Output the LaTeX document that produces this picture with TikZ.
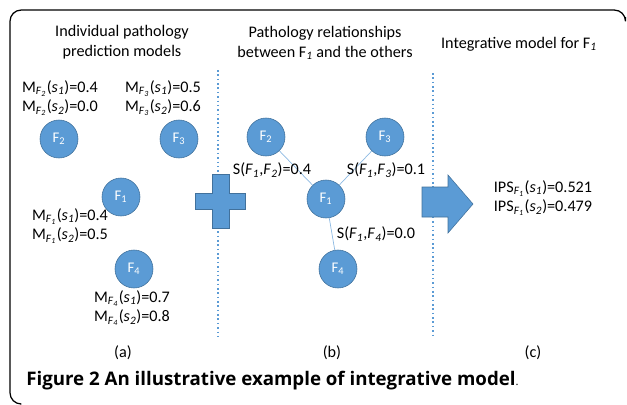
\documentclass[tikz,border=0pt]{standalone}
\usepackage{fontspec}
\setmainfont{Carlito}
\newfontfamily\capfont{Open Sans}
\usepackage{tikz}

\definecolor{pblue}{HTML}{5B9BD5}
\definecolor{pedge}{HTML}{41719C}
\newcommand{\Fi}[1]{\textit{F}\textsubscript{\textit{#1}}}
\newcommand{\si}[1]{\textit{s}\textsubscript{\textit{#1}}}

\begin{document}
\begin{tikzpicture}[x=0.025cm, y=-0.025cm, font=\fontsize{11.5}{14}\selectfont,
    fnode/.style={draw=pedge, fill=pblue, circle, minimum size=0.95cm, inner sep=0pt, text=white,
        font=\fontsize{10.5}{12}\selectfont},
    link/.style={pblue!70, line width=0.5pt},
    sep/.style={pblue, dotted, line width=1.1pt},
    blob/.style={fill=pblue, draw=pedge, line width=0.4pt},
    val/.style={align=center, inner sep=0pt}]
    \useasboundingbox (0,0) rectangle (627,404);
    % frame
    \draw[line width=0.9pt, rounded corners=8] (625.5,17) |- (10,10) |- (20,404);

    % headings
    \node[val] (ha) at (122,42) {Individual pathology\\prediction models};
    \node[val] (hb) at (325,43) {Pathology relationships\\between F\textsubscript{\textit{1}} and the others};
    \node[val] (hc) at (519,44) {Integrative model for F\textsubscript{\textit{1}}};

    % separators
    \coordinate (s1t) at (218,70);
    \coordinate (s1b) at (218,337);
    \coordinate (s2t) at (433,73);
    \coordinate (s2b) at (433,337);
    \draw[sep] (s1t) -- (s1b);
    \draw[sep] (s2t) -- (s2b);

    % (a) individual models
    \node[fnode] (a2) at (59,139) {F\textsubscript{2}};
    \node[fnode] (a3) at (179,139) {F\textsubscript{3}};
    \node[fnode] (a1) at (121,197) {F\textsubscript{1}};
    \node[fnode] (a4) at (134,269) {F\textsubscript{4}};
    \node[val] (m2) at (60,98) {M\textsubscript{\Fi{2}}(\si{1})=0.4\\M\textsubscript{\Fi{2}}(\si{2})=0.0};
    \node[val] (m3) at (163,98) {M\textsubscript{\Fi{3}}(\si{1})=0.5\\M\textsubscript{\Fi{3}}(\si{2})=0.6};
    \node[val] (m1) at (70,226) {M\textsubscript{\Fi{1}}(\si{1})=0.4\\M\textsubscript{\Fi{1}}(\si{2})=0.5};
    \node[val] (m4) at (132,308) {M\textsubscript{\Fi{4}}(\si{1})=0.7\\M\textsubscript{\Fi{4}}(\si{2})=0.8};

    % plus
    \filldraw[blob] (212,174) -- (229,174) -- (229,193) -- (245,193) -- (245,209)
        -- (229,209) -- (229,228) -- (212,228) -- (212,209) -- (195,209) -- (195,193) -- (212,193) -- cycle;

    % (b) relationships
    \node[fnode] (b2) at (266,137) {F\textsubscript{2}};
    \node[fnode] (b3) at (385,137) {F\textsubscript{3}};
    \node[fnode] (b1) at (326,199) {F\textsubscript{1}};
    \node[fnode] (b4) at (338,269) {F\textsubscript{4}};
    \draw[link] (b1) -- (b2);
    \draw[link] (b1) -- (b3);
    \draw[link] (b1) -- (b4);
    \node[val] (r2) at (272,170) {S(\Fi{1},\Fi{2})=0.4};
    \node[val] (r3) at (386,170) {S(\Fi{1},\Fi{3})=0.1};
    \node[val] (r4) at (376,234) {S(\Fi{1},\Fi{4})=0.0};

    % arrow
    \filldraw[blob] (422,187) -- (448,187) -- (448,175) -- (473,204) -- (448,233) -- (448,217) -- (422,217) -- cycle;

    % (c) integrative model
    \node[val] (ips) at (543,198) {IPS\textsubscript{\Fi{1}}(\si{1})=0.521\\IPS\textsubscript{\Fi{1}}(\si{2})=0.479};

    % panel labels
    \node (la) at (123,353) {(a)};
    \node (lb) at (332,353) {(b)};
    \node (lc) at (533,353) {(c)};

    % caption
    \node[anchor=west, inner sep=0pt, font=\capfont\fontsize{13.3}{16}\selectfont] (cap) at (26,381)
        {\textbf{Figure 2 An illustrative example of integrative model}{\footnotesize .}};
\end{tikzpicture}
\end{document}
